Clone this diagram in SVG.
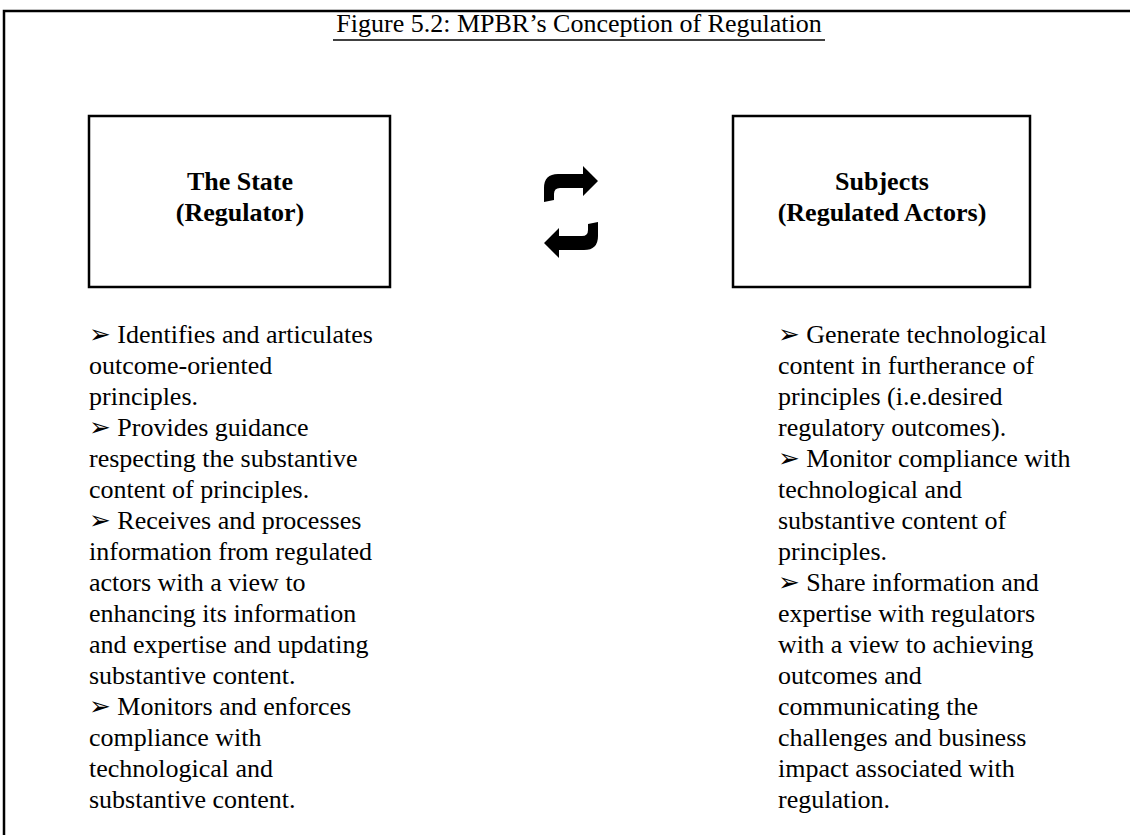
<svg xmlns="http://www.w3.org/2000/svg" width="1130" height="835" viewBox="0 0 1130 835">
  <style>
    .frame { fill: none; stroke: #000; stroke-width: 2.5; }
    .box { fill: #fff; stroke: #000; stroke-width: 2.5; }
    .title { font-family: "Liberation Serif", "Times New Roman", serif; font-size: 26px; fill: #000; }
    .label { font-family: "Liberation Serif", "Times New Roman", serif; font-size: 26px; font-weight: bold; fill: #000; text-anchor: middle; }
    .body { font-family: "Liberation Serif", "Times New Roman", "DejaVu Sans", serif; font-size: 26px; fill: #000; }
    .hook { fill: #000; }
  </style>

  <!-- outer frame: top and left edges only -->
  <path class="frame" d="M 4 835 V 11 H 1130"/>

  <!-- figure caption -->
  <g id="caption">
    <text class="title" x="579" y="32" text-anchor="middle">Figure 5.2: MPBR’s Conception of Regulation</text>
    <line x1="333" y1="40" x2="825" y2="40" stroke="#000" stroke-width="1.5"/>
  </g>

  <!-- regulator node -->
  <g id="state">
    <rect class="box" x="89" y="116" width="301" height="171"/>
    <text class="label" x="240" y="190">The State</text>
    <text class="label" x="240" y="221">(Regulator)</text>
  </g>

  <!-- regulated actors node -->
  <g id="subjects">
    <rect class="box" x="733" y="116" width="297" height="171"/>
    <text class="label" x="882" y="190">Subjects</text>
    <text class="label" x="882" y="221">(Regulated Actors)</text>
  </g>

  <!-- two-way exchange between the nodes -->
  <defs>
    <path id="hook-left" d="M 588 224 L 598 222 L 598 236 Q 598 250 584 250 L 559 250 L 559 258 L 544 243 L 559 228 L 559 236 L 582 236 Q 588 236 588 230 Z"/>
  </defs>
  <g id="connectors">
    <use href="#hook-left" class="hook" transform="rotate(180 571 212)"/>
    <use href="#hook-left" class="hook"/>
  </g>

  <!-- regulator responsibilities -->
  <g id="state-duties">
    <text class="body" x="89" y="343">➢ Identifies and articulates</text>
    <text class="body" x="89" y="374">outcome-oriented</text>
    <text class="body" x="89" y="405">principles.</text>
    <text class="body" x="89" y="436">➢ Provides guidance</text>
    <text class="body" x="89" y="467">respecting the substantive</text>
    <text class="body" x="89" y="498">content of principles.</text>
    <text class="body" x="89" y="529">➢ Receives and processes</text>
    <text class="body" x="89" y="560">information from regulated</text>
    <text class="body" x="89" y="591">actors with a view to</text>
    <text class="body" x="89" y="622">enhancing its information</text>
    <text class="body" x="89" y="653">and expertise and updating</text>
    <text class="body" x="89" y="684">substantive content.</text>
    <text class="body" x="89" y="715">➢ Monitors and enforces</text>
    <text class="body" x="89" y="746">compliance with</text>
    <text class="body" x="89" y="777">technological and</text>
    <text class="body" x="89" y="808">substantive content.</text>
  </g>

  <!-- regulated actors responsibilities -->
  <g id="subject-duties">
    <text class="body" x="778" y="343">➢ Generate technological</text>
    <text class="body" x="778" y="374">content in furtherance of</text>
    <text class="body" x="778" y="405">principles (i.e.desired</text>
    <text class="body" x="778" y="436">regulatory outcomes).</text>
    <text class="body" x="778" y="467">➢ Monitor compliance with</text>
    <text class="body" x="778" y="498">technological and</text>
    <text class="body" x="778" y="529">substantive content of</text>
    <text class="body" x="778" y="560">principles.</text>
    <text class="body" x="778" y="591">➢ Share information and</text>
    <text class="body" x="778" y="622">expertise with regulators</text>
    <text class="body" x="778" y="653">with a view to achieving</text>
    <text class="body" x="778" y="684">outcomes and</text>
    <text class="body" x="778" y="715">communicating the</text>
    <text class="body" x="778" y="746">challenges and business</text>
    <text class="body" x="778" y="777">impact associated with</text>
    <text class="body" x="778" y="808">regulation.</text>
  </g>
</svg>
